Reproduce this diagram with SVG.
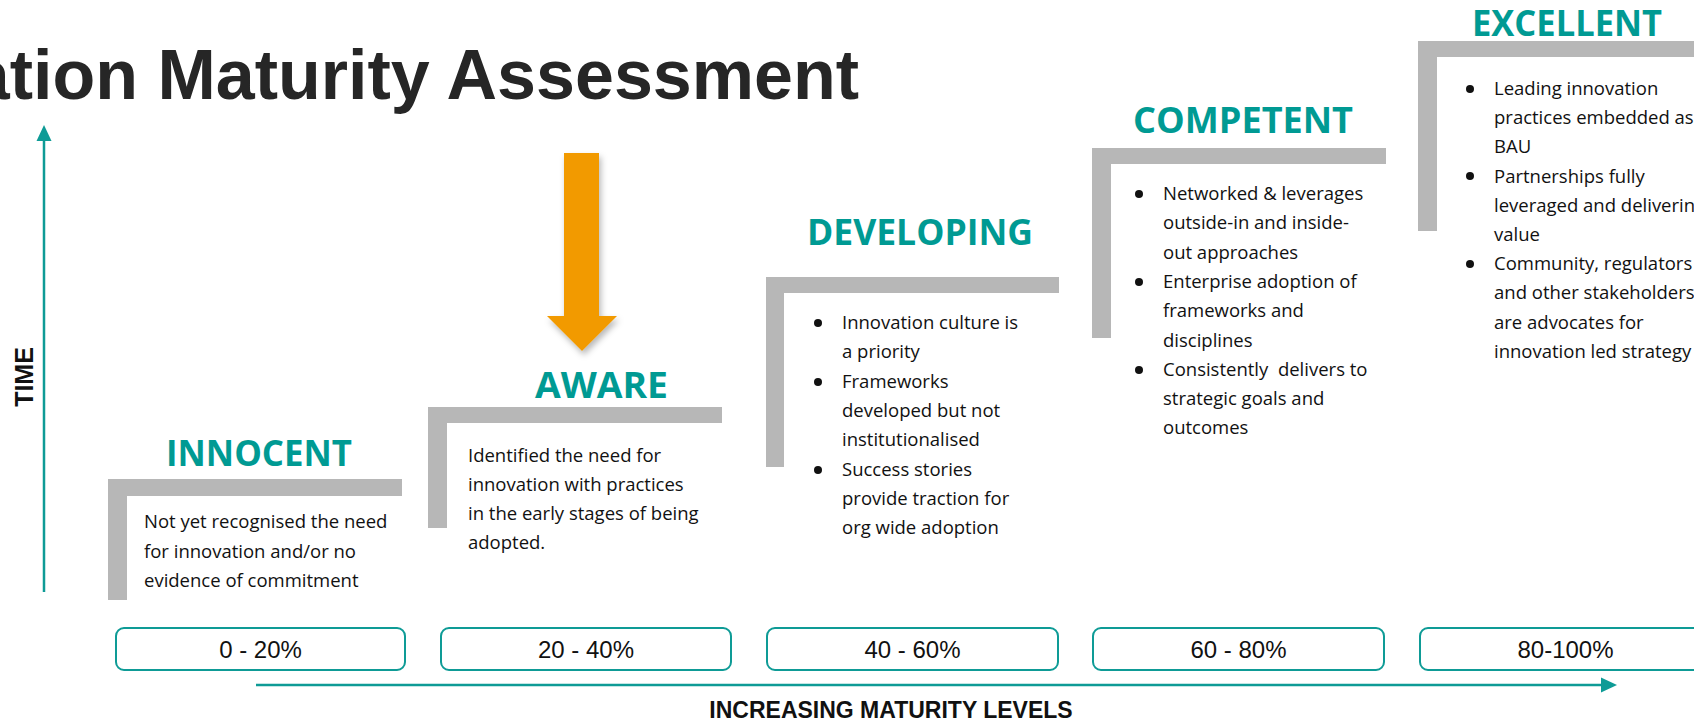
<svg xmlns="http://www.w3.org/2000/svg" width="1694" height="723" viewBox="0 0 1694 723">
  <style>
    .title { font-family: "Liberation Sans", Arial, sans-serif; font-weight: bold; font-size: 70px; fill: #262626; }
    .stage { font-family: "Open Sans", "Liberation Sans", sans-serif; font-weight: bold; font-size: 36px; fill: #009A93; text-anchor: middle; }
    .body { font-family: "Open Sans", "Liberation Sans", sans-serif; font-size: 18.5px; fill: #111111; white-space: pre; }
    .axis-label { font-family: "Liberation Sans", Arial, sans-serif; font-weight: bold; fill: #111111; }
    .pct { font-family: "Liberation Sans", Arial, sans-serif; font-size: 24px; fill: #111111; text-anchor: middle; }
    .bracket { fill: #B7B7B7; }
    .range { fill: #FFFFFF; stroke: #0E9B96; stroke-width: 2; }
    .axis { stroke: #0E9B96; stroke-width: 2.5; fill: none; }
    .dot { fill: #111111; }
  </style>
  <defs>
    <marker id="axisHead" markerUnits="userSpaceOnUse" markerWidth="16" markerHeight="16" refX="0" refY="8" orient="auto">
      <path d="M0,0.5 L16,8 L0,15.5 z" fill="#0E9B96"/>
    </marker>
    <filter id="softShadow" x="-30%" y="-10%" width="160%" height="130%">
      <feDropShadow dx="2" dy="4" stdDeviation="3" flood-color="#000000" flood-opacity="0.28"/>
    </filter>
  </defs>

  <rect width="1694" height="723" fill="#FFFFFF"/>

  <!-- heading, runs off the left edge -->
  <g id="title">
    <text class="title" x="859" y="99" text-anchor="end">Innovation Maturity Assessment</text>
  </g>

  <!-- axes -->
  <g id="connectors">
    <line class="axis" x1="44" y1="592" x2="44" y2="141" marker-end="url(#axisHead)"/>
    <line class="axis" x1="256" y1="685" x2="1601" y2="685" marker-end="url(#axisHead)"/>
  </g>

  <g id="axis-time">
    <text class="axis-label" font-size="25" text-anchor="middle" transform="translate(33,377) rotate(-90)">TIME</text>
  </g>
  <g id="axis-maturity">
    <text class="axis-label" font-size="23" x="891" y="718" text-anchor="middle">INCREASING MATURITY LEVELS</text>
  </g>

  <!-- current position pointer -->
  <g id="pointer">
    <polygon points="564,153 599,153 599,316 617,316 582,351 547,316 564,316" fill="#F29A00" filter="url(#softShadow)"/>
  </g>

  <!-- stage 1 -->
  <g id="stage-innocent">
    <polygon class="bracket" points="108,479 402,479 402,496 127,496 127,600 108,600"/>
    <text class="stage" x="259" y="466" textLength="186" lengthAdjust="spacingAndGlyphs">INNOCENT</text>
    <text class="body" x="144" y="528">Not yet recognised the need</text>
    <text class="body" x="144" y="557.5">for innovation and/or no</text>
    <text class="body" x="144" y="587">evidence of commitment</text>
  </g>

  <!-- stage 2 -->
  <g id="stage-aware">
    <polygon class="bracket" points="428,407 722,407 722,423 447,423 447,528 428,528"/>
    <text class="stage" x="601.5" y="398" textLength="133" lengthAdjust="spacingAndGlyphs">AWARE</text>
    <text class="body" x="468" y="462">Identified the need for</text>
    <text class="body" x="468" y="491">innovation with practices</text>
    <text class="body" x="468" y="520">in the early stages of being</text>
    <text class="body" x="468" y="549">adopted.</text>
  </g>

  <!-- stage 3 -->
  <g id="stage-developing">
    <polygon class="bracket" points="766,277 1059,277 1059,293 784,293 784,467 766,467"/>
    <text class="stage" x="920" y="245" textLength="226" lengthAdjust="spacingAndGlyphs">DEVELOPING</text>
    <circle class="dot" cx="818" cy="323" r="4"/>
    <circle class="dot" cx="818" cy="382" r="4"/>
    <circle class="dot" cx="818" cy="470" r="4"/>
    <text class="body" x="842" y="329">Innovation culture is</text>
    <text class="body" x="842" y="358.3">a priority</text>
    <text class="body" x="842" y="387.6">Frameworks</text>
    <text class="body" x="842" y="416.9">developed but not</text>
    <text class="body" x="842" y="446.2">institutionalised</text>
    <text class="body" x="842" y="475.5">Success stories</text>
    <text class="body" x="842" y="504.8">provide traction for</text>
    <text class="body" x="842" y="534.1">org wide adoption</text>
  </g>

  <!-- stage 4 -->
  <g id="stage-competent">
    <polygon class="bracket" points="1092,148 1386,148 1386,164 1111,164 1111,338 1092,338"/>
    <text class="stage" x="1243" y="133" textLength="220" lengthAdjust="spacingAndGlyphs">COMPETENT</text>
    <circle class="dot" cx="1139" cy="194" r="4"/>
    <circle class="dot" cx="1139" cy="282" r="4"/>
    <circle class="dot" cx="1139" cy="370" r="4"/>
    <text class="body" x="1163" y="200">Networked &amp; leverages</text>
    <text class="body" x="1163" y="229.3">outside-in and inside-</text>
    <text class="body" x="1163" y="258.6">out approaches</text>
    <text class="body" x="1163" y="287.9">Enterprise adoption of</text>
    <text class="body" x="1163" y="317.2">frameworks and</text>
    <text class="body" x="1163" y="346.5">disciplines</text>
    <text class="body" x="1163" y="375.8">Consistently  delivers to</text>
    <text class="body" x="1163" y="405.1">strategic goals and</text>
    <text class="body" x="1163" y="434.4">outcomes</text>
  </g>

  <!-- stage 5 -->
  <g id="stage-excellent">
    <polygon class="bracket" points="1418,41 1694,41 1694,57 1437,57 1437,231 1418,231"/>
    <text class="stage" x="1567" y="36" textLength="190" lengthAdjust="spacingAndGlyphs">EXCELLENT</text>
    <circle class="dot" cx="1470" cy="89" r="4"/>
    <circle class="dot" cx="1470" cy="176" r="4"/>
    <circle class="dot" cx="1470" cy="264" r="4"/>
    <text class="body" x="1494" y="95">Leading innovation</text>
    <text class="body" x="1494" y="124.2">practices embedded as</text>
    <text class="body" x="1494" y="153.4">BAU</text>
    <text class="body" x="1494" y="182.6">Partnerships fully</text>
    <text class="body" x="1494" y="211.8">leveraged and delivering</text>
    <text class="body" x="1494" y="241">value</text>
    <text class="body" x="1494" y="270.2">Community, regulators</text>
    <text class="body" x="1494" y="299.4">and other stakeholders</text>
    <text class="body" x="1494" y="328.6">are advocates for</text>
    <text class="body" x="1494" y="357.8">innovation led strategy</text>
  </g>

  <!-- maturity ranges -->
  <g id="range-0-20">
    <rect class="range" x="116" y="628" width="289" height="42" rx="8"/>
    <text class="pct" x="260.5" y="657.5">0 - 20%</text>
  </g>
  <g id="range-20-40">
    <rect class="range" x="441" y="628" width="290" height="42" rx="8"/>
    <text class="pct" x="586" y="657.5">20 - 40%</text>
  </g>
  <g id="range-40-60">
    <rect class="range" x="767" y="628" width="291" height="42" rx="8"/>
    <text class="pct" x="912.5" y="657.5">40 - 60%</text>
  </g>
  <g id="range-60-80">
    <rect class="range" x="1093" y="628" width="291" height="42" rx="8"/>
    <text class="pct" x="1238.5" y="657.5">60 - 80%</text>
  </g>
  <g id="range-80-100">
    <rect class="range" x="1420" y="628" width="291" height="42" rx="8"/>
    <text class="pct" x="1565.5" y="657.5">80-100%</text>
  </g>
</svg>
